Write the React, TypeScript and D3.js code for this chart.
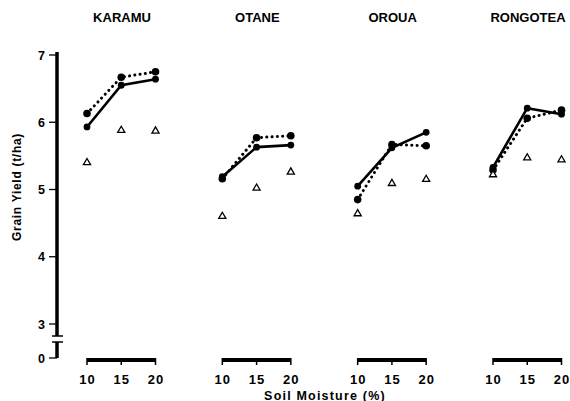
import * as d3 from "d3";

const cultivars = ["KARAMU", "OTANE", "OROUA", "RONGOTEA"];
const moisture = [10, 15, 20];
const yTicks = [7, 6, 5, 4, 3];

// grain yield (t/ha) per cultivar at 10, 15, 20 % soil moisture
const solidSeries = [
  [5.93, 6.55, 6.64],
  [5.19, 5.63, 5.66],
  [5.05, 5.62, 5.85],
  [5.33, 6.21, 6.12],
];
const dottedSeries = [
  [6.13, 6.67, 6.75],
  [5.16, 5.77, 5.8],
  [4.85, 5.67, 5.65],
  [5.29, 6.06, 6.18],
];
const triangleSeries = [
  [5.4, 5.88, 5.87],
  [4.6, 5.02, 5.26],
  [4.64, 5.09, 5.15],
  [5.22, 5.47, 5.44],
];

const font = "'Liberation Sans', Arial, Helvetica, sans-serif";

const App = () => {
  const width = 570;
  const height = 401;

  const y = d3.scaleLinear().domain([3, 7]).range([324, 55]);
  const y0 = 358; // broken axis: zero level
  const panel = d3.scalePoint<string>().domain(cultivars).range([87, 493]);
  const x = d3.scaleLinear().domain([10, 20]).range([0, 68.5]);
  const axisX = 57;
  const barY = 360;

  const line = d3
    .line<number>()
    .x((_, i) => x(moisture[i]))
    .y((d) => y(d));

  const tri = d3.symbol().type(d3.symbolTriangle).size(22)();

  return (
    <svg
      width={width}
      height={height}
      style={{ position: "absolute", left: 0, top: 0, background: "#fff" }}
      fontFamily={font}
      fontWeight="bold"
    >
      {/* y axis */}
      <line x1={axisX} x2={axisX} y1={52} y2={336} stroke="#000" strokeWidth={3.5} />
      <line x1={axisX} x2={axisX} y1={342} y2={y0} stroke="#000" strokeWidth={3.5} />
      <line x1={52} x2={63} y1={336} y2={336} stroke="#000" strokeWidth={1.5} />
      <line x1={52} x2={63} y1={342} y2={342} stroke="#000" strokeWidth={1.5} />
      {yTicks.map((t) => (
        <g key={t}>
          <line x1={49} x2={axisX} y1={y(t)} y2={y(t)} stroke="#000" strokeWidth={1.3} />
          <text x={45} y={y(t) + 4.5} textAnchor="end" fontSize={12.5}>
            {t}
          </text>
        </g>
      ))}
      <line x1={49} x2={axisX} y1={y0} y2={y0} stroke="#000" strokeWidth={1.3} />
      <text x={45} y={y0 + 4.5} textAnchor="end" fontSize={12.5}>
        0
      </text>
      <text
        transform={`translate(21,187) rotate(-90)`}
        textAnchor="middle"
        fontSize={12}
        letterSpacing={0.7}
      >
        Grain Yield (t/ha)
      </text>

      {cultivars.map((c, ci) => {
        const ox = panel(c) || 0;
        return (
          <g key={c} transform={`translate(${ox},0)`}>
            <text x={35} y={22} textAnchor="middle" fontSize={13}>
              {c}
            </text>

            {/* x axis bar */}
            <line x1={0} x2={x(20)} y1={barY} y2={barY} stroke="#000" strokeWidth={4} />
            {moisture.map((m) => (
              <g key={m}>
                <line x1={x(m)} x2={x(m)} y1={barY - 2} y2={barY + 5} stroke="#000" strokeWidth={1.5} />
                <text
                  x={x(m) + 0.5}
                  y={383.5}
                  textAnchor="middle"
                  fontSize={13}
                  letterSpacing={1}
                >
                  {m}
                </text>
              </g>
            ))}

            {/* dotted series */}
            <path
              d={line(dottedSeries[ci]) || ""}
              fill="none"
              stroke="#000"
              strokeWidth={3}
              strokeLinecap="round"
              strokeDasharray="0.1 5.2"
            />
            {dottedSeries[ci].map((v, i) => (
              <circle key={i} cx={x(moisture[i])} cy={y(v)} r={3.8} fill="#000" />
            ))}

            {/* solid series */}
            <path d={line(solidSeries[ci]) || ""} fill="none" stroke="#000" strokeWidth={2.6} />
            {solidSeries[ci].map((v, i) => (
              <circle key={i} cx={x(moisture[i])} cy={y(v)} r={3.4} fill="#000" />
            ))}

            {/* triangles */}
            {triangleSeries[ci].map((v, i) => (
              <path
                key={i}
                d={tri || ""}
                transform={`translate(${x(moisture[i])},${y(v)})`}
                fill="#fff"
                stroke="#000"
                strokeWidth={1.3}
              />
            ))}
          </g>
        );
      })}

      <text x={325} y={399.5} textAnchor="middle" fontSize={12.5} letterSpacing={1.2}>
        Soil Moisture (%)
      </text>
    </svg>
  );
};

export default App;
